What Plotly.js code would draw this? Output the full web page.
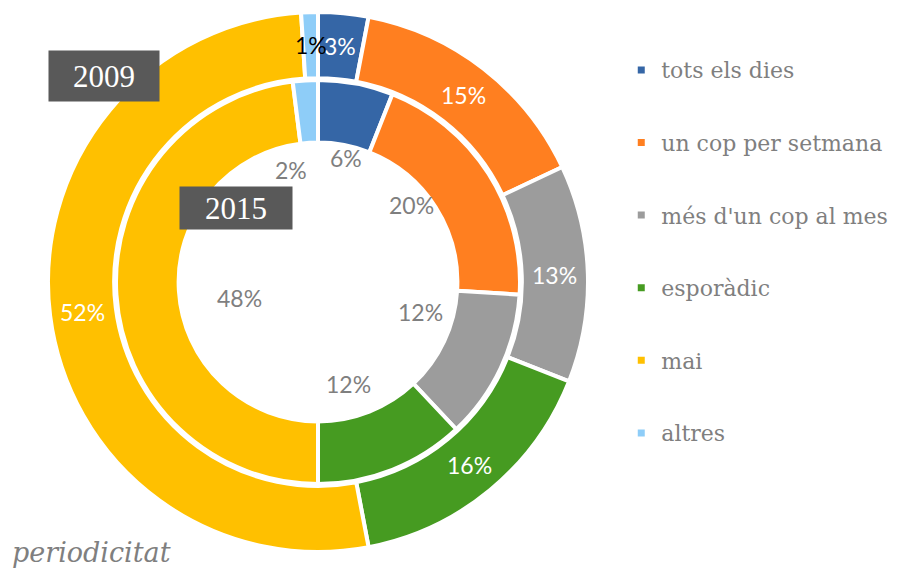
<!DOCTYPE html>
<html>
<head>
<meta charset="utf-8">
<script src="https://cdn.plot.ly/plotly-3.0.1.min.js"></script>
<style>html,body{margin:0;padding:0;background:#fff}#chart{width:903px;height:571px}</style>
</head>
<body>
<div id="chart"></div>
<script>
// Categories and shares (%) for each survey year
const categories = ['tots els dies', 'un cop per setmana', "més d'un cop al mes", 'esporàdic', 'mai', 'altres'];
const values2009 = [3, 15, 13, 16, 52, 1];
const values2015 = [6, 20, 12, 12, 48, 2];
const colors = ['#3566A6', '#FF7F20', '#9C9C9C', '#469B21', '#FFC000', '#8ECDF8'];
const yearLabels = ['2009', '2015'];
const footerLabel = 'periodicitat';

// Layout geometry (pixels)
const W = 903, H = 571;
const cx = 318, cy = 282;
const rOuter = 270, rInner = 202;
const outerHole = 0.755, innerHole = 0.69;
// placement of the 2015 labels inside the hole: radial distance and angular nudge
const innerLabelRadius = [127, 121, 107, 106, 80, 115];
const innerLabelShift = [2, -7, -9, 5, -8, -10];

function domainFor(r) {
  return {
    x: [(cx - r) / W, (cx + r) / W],
    y: [(H - cy - r) / H, (H - cy + r) / H]
  };
}

function pt(angleDeg, r) {
  const a = angleDeg * Math.PI / 180;
  return { x: (cx + r * Math.sin(a)) / W, y: (H - (cy - r * Math.cos(a))) / H };
}

function midAngles(vals) {
  const total = vals.reduce((s, v) => s + v, 0);
  let cum = 0;
  return vals.map(v => {
    const m = (cum + v / 2) / total * 360;
    cum += v;
    return m;
  });
}

const pieCommon = {
  type: 'pie',
  sort: false,
  direction: 'clockwise',
  rotation: 0,
  textinfo: 'none',
  hoverinfo: 'label+percent',
  showlegend: false,
  labels: categories,
  marker: { colors: colors, line: { color: '#ffffff', width: 4 } }
};

const traces = [
  Object.assign({}, pieCommon, { values: values2009, hole: outerHole, domain: domainFor(rOuter), name: yearLabels[0] }),
  Object.assign({}, pieCommon, { values: values2015, hole: innerHole, domain: domainFor(rInner), name: yearLabels[1] })
];

// Legend entries (square swatches)
categories.forEach((c, i) => {
  traces.push({
    type: 'scatter', mode: 'markers', x: [null], y: [null],
    name: c, legendgroup: 'g' + i, showlegend: true,
    marker: { symbol: 'square', size: 7, color: colors[i] },
    hoverinfo: 'skip'
  });
});

const labelFont = 'Lato, sans-serif';
const annotations = [];
const outerMid = midAngles(values2009);
const outerR = (rOuter + rOuter * outerHole) / 2;
values2009.forEach((v, i) => {
  const p = pt(outerMid[i], outerR);
  annotations.push({
    xref: 'paper', yref: 'paper', x: p.x, y: p.y, showarrow: false,
    text: v + '%', xanchor: 'center', yanchor: 'middle',
    font: { family: labelFont, size: 23, color: v < 2 ? '#000000' : '#ffffff' }
  });
});
const innerMid = midAngles(values2015);
values2015.forEach((v, i) => {
  const p = pt(innerMid[i] + innerLabelShift[i], innerLabelRadius[i]);
  annotations.push({
    xref: 'paper', yref: 'paper', x: p.x, y: p.y, showarrow: false,
    text: v + '%', xanchor: 'center', yanchor: 'middle',
    font: { family: labelFont, size: 23, color: '#7F7F7F' }
  });
});

// Year tags
annotations.push({
  xref: 'paper', yref: 'paper', x: 104 / W, y: (H - 76) / H, showarrow: false,
  xanchor: 'center', yanchor: 'middle',
  text: yearLabels[0], width: 108, height: 48, bgcolor: '#595959',
  font: { family: 'Liberation Serif, serif', size: 31, color: '#ffffff' }
});
annotations.push({
  xref: 'paper', yref: 'paper', x: 236 / W, y: (H - 208) / H, showarrow: false,
  xanchor: 'center', yanchor: 'middle',
  text: yearLabels[1], width: 110, height: 40, bgcolor: '#595959',
  font: { family: 'Liberation Serif, serif', size: 31, color: '#ffffff' }
});
annotations.push({
  xref: 'paper', yref: 'paper', x: 10 / W, y: (H - 552) / H, showarrow: false,
  xanchor: 'left', yanchor: 'middle',
  text: '<i>' + footerLabel + '</i>',
  font: { family: 'DejaVu Serif, serif', size: 27, color: '#7F7F7F' }
});

const layout = {
  width: W, height: H,
  margin: { l: 0, r: 0, t: 0, b: 0 },
  paper_bgcolor: '#ffffff', plot_bgcolor: '#ffffff',
  xaxis: { visible: false, domain: [0.99, 1] },
  yaxis: { visible: false, domain: [0.99, 1] },
  showlegend: true,
  legend: {
    x: 0.688, y: 0.914, xanchor: 'left', yanchor: 'top',
    tracegroupgap: 41, itemwidth: 30,
    font: { family: 'DejaVu Serif, serif', size: 22, color: '#7F7F7F' },
    bgcolor: 'rgba(0,0,0,0)'
  },
  annotations: annotations
};

Plotly.newPlot('chart', traces, layout, { displayModeBar: false, staticPlot: true });
</script>
</body>
</html>
